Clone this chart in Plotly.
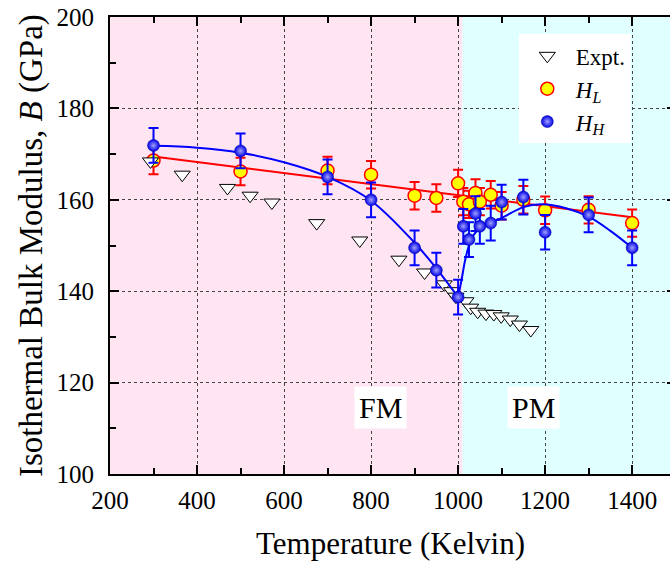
import plotly.graph_objects as go

# ---- data ----
T_expt = [293, 366, 470, 522, 572, 675, 774, 864, 923, 968, 985, 995, 1018, 1029,
          1045, 1064, 1082, 1099, 1120, 1141, 1167]
B_expt = [168.4, 165.5, 162.6, 160.9, 159.4, 154.9, 151.1, 146.9, 144.1, 141.5, 140.0,
          138.8, 137.8, 136.4, 135.5, 135.1, 135.0, 134.5, 133.8, 132.7, 131.5]

T_L = [300, 500, 700, 800, 900, 950, 1000, 1012, 1025, 1040, 1050, 1075, 1100, 1150, 1200, 1300, 1400]
B_L = [168.6, 166.2, 166.4, 165.5, 160.9, 160.4, 163.6, 159.6, 159.0, 161.5, 159.6, 161.1,
       158.7, 160.0, 157.7, 157.8, 154.9]
err_L = 3.0

T_H = [300, 500, 700, 800, 900, 950, 1000, 1012, 1025, 1040, 1050, 1075, 1100, 1150, 1200, 1300, 1400]
B_H = [171.9, 170.7, 165.0, 160.0, 149.5, 144.6, 138.7, 154.2, 151.3, 157.0, 154.2, 154.9,
       159.5, 160.6, 152.9, 156.7, 149.5]
err_H = 3.8

# fitted curves
fitL_T = [300, 1400]
fitL_B = [169.5, 156.2]
fitH_FM_T = [300, 400, 500, 600, 700, 800, 900, 950, 1000]
fitH_FM_B = [171.8, 171.4, 170.3, 168.2, 165.0, 159.8, 150.6, 145.0, 138.7]
fitH_PM_T = [1000, 1008, 1016, 1025, 1035, 1050, 1075, 1100, 1150, 1190, 1250, 1300, 1350, 1400]
fitH_PM_B = [138.7, 142.5, 146.7, 150.0, 152.2, 153.8, 155.0, 156.0, 158.4, 159.0, 158.1,
             156.3, 153.2, 149.5]

T_C = 1010
x_range = [200, 1487]
y_range = [100, 200]
x_ticks = [200, 400, 600, 800, 1000, 1200, 1400]
y_ticks = [100, 120, 140, 160, 180, 200]

FONT = "Liberation Serif"

fig = go.Figure()

# background regions
fig.add_shape(type="rect", xref="x", yref="y", x0=x_range[0], x1=T_C, y0=y_range[0], y1=y_range[1],
              fillcolor="#FFE5F2", line_width=0, layer="below")
fig.add_shape(type="rect", xref="x", yref="y", x0=T_C, x1=1500, y0=y_range[0], y1=y_range[1],
              fillcolor="#E0FFFF", line_width=0, layer="below")

# H_L fit + points
fig.add_trace(go.Scatter(x=fitL_T, y=fitL_B, mode="lines", line=dict(color="#FF0000", width=2),
                         showlegend=False, hoverinfo="skip"))
fig.add_trace(go.Scatter(x=T_L, y=B_L, mode="markers", name="<i>H</i><sub><i>L</i></sub>",
                         legendrank=2,
                         marker=dict(symbol="circle", size=13, color="#FFFF00",
                                     line=dict(color="#FF0000", width=1.5)),
                         error_y=dict(type="constant", value=err_L, color="#FF0000",
                                      thickness=2, width=5)))

# experiment
fig.add_trace(go.Scatter(x=T_expt, y=B_expt, mode="markers", name="Expt.", legendrank=1,
                         marker=dict(symbol="triangle-down", size=14, color="white",
                                     line=dict(color="black", width=1))))

# H_H fits + points
fig.add_trace(go.Scatter(x=fitH_FM_T, y=fitH_FM_B, mode="lines", line=dict(color="#0000FF", width=2, shape="spline"),
                         showlegend=False, hoverinfo="skip"))
fig.add_trace(go.Scatter(x=fitH_PM_T, y=fitH_PM_B, mode="lines", line=dict(color="#0000FF", width=2, shape="spline"),
                         showlegend=False, hoverinfo="skip"))
fig.add_trace(go.Scatter(x=T_H, y=B_H, mode="markers", name="<i>H</i><sub><i>H</i></sub>",
                         legendrank=3,
                         marker=dict(symbol="circle", size=12, color="#0000E8",
                                     gradient=dict(type="radial", color="#A0A0FF"),
                                     line=dict(color="#0000A0", width=0.5)),
                         error_y=dict(type="constant", value=err_H, color="#0000FF",
                                      thickness=2, width=5)))

# right side ticks (no line)
fig.add_trace(go.Scatter(x=[None], y=[None], yaxis="y2", showlegend=False, hoverinfo="skip"))

# FM / PM labels
fig.add_annotation(x=822, y=114.6, xref="x", yref="y", text="FM", showarrow=False,
                   font=dict(family=FONT, size=30, color="black"), bgcolor="white", borderpad=4)
fig.add_annotation(x=1174, y=114.6, xref="x", yref="y", text="PM", showarrow=False,
                   font=dict(family=FONT, size=30, color="black"), bgcolor="white", borderpad=4)

# axis titles
fig.add_annotation(x=0.5, y=-0.151, xref="paper", yref="paper", yanchor="middle", xanchor="center",
                   text="Temperature (Kelvin)", showarrow=False,
                   font=dict(family=FONT, size=31, color="black"))
fig.add_annotation(x=-0.14, y=0.5, xref="paper", yref="paper", xanchor="center", yanchor="middle",
                   textangle=-90, text="Isothermal Bulk Modulus, <i>B</i> (GPa)", showarrow=False,
                   font=dict(family=FONT, size=33, color="black"))

fig.update_layout(
    width=670, height=568,
    margin=dict(l=110, r=0, t=17, b=94),
    paper_bgcolor="white", plot_bgcolor="white",
    font=dict(family=FONT, size=25, color="black"),
    xaxis=dict(range=x_range, tickvals=x_ticks, ticks="inside", ticklen=9, tickwidth=1.5,
               tickcolor="black", showline=True, linewidth=2, linecolor="black", mirror="ticks",
               showgrid=True, gridcolor="#444444", griddash="dot", gridwidth=1,
               minor=dict(tickvals=[300, 500, 700, 900, 1100, 1300], ticks="inside", ticklen=6,
                          tickwidth=1.5, tickcolor="black", showgrid=False),
               zeroline=False, ticklabelstandoff=3,
               tickfont=dict(family=FONT, size=25)),
    yaxis=dict(range=y_range, tickvals=y_ticks, ticks="inside", ticklen=9, tickwidth=1.5,
               tickcolor="black", showline=True, linewidth=2, linecolor="black", mirror=False,
               showgrid=True, gridcolor="#444444", griddash="dot", gridwidth=1,
               minor=dict(tickvals=[110, 130, 150, 170, 190], ticks="inside", ticklen=6,
                          tickwidth=1.5, tickcolor="black", showgrid=False),
               zeroline=False, ticklabelstandoff=9,
               tickfont=dict(family=FONT, size=25)),
    yaxis2=dict(range=y_range, overlaying="y", side="right", tickvals=y_ticks, ticks="inside",
                ticklen=3, tickwidth=1.5, tickcolor="black", showticklabels=False,
                showgrid=False, showline=False, zeroline=False),
    legend=dict(x=0.73, y=0.962, xanchor="left", yanchor="top", bgcolor="white",
                borderwidth=0, font=dict(family=FONT, size=23), itemwidth=47,
                tracegroupgap=0),
    showlegend=True,
)

fig.write_html("out.html")
